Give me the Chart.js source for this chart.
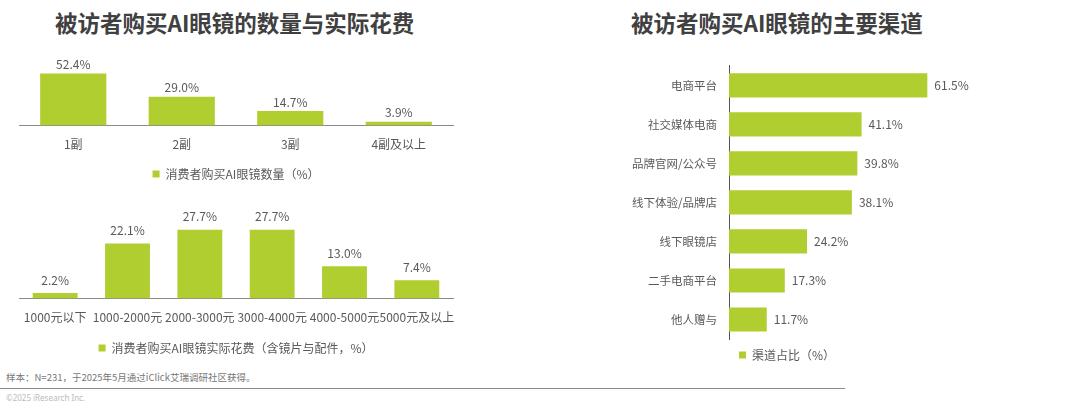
<!DOCTYPE html>
<html>
<head>
<meta charset="utf-8">
<script src="https://cdn.jsdelivr.net/npm/chart.js@4.4.1/dist/chart.umd.min.js"></script>
<style>
  body { margin: 0; width: 1080px; height: 409px; background: #fff; position: relative; overflow: hidden;
         font-family: "Noto Sans CJK SC", "Noto Sans", sans-serif; }
  .title { position: absolute; top: 6px; font-size: 22.5px; font-weight: bold; color: #404040; white-space: nowrap; }
  .box { position: absolute; }
  .note { position: absolute; left: 6px; top: 370px; font-size: 9.5px; color: #777; }
  .copy { position: absolute; left: 6px; top: 392px; font-size: 8px; color: #bbb; font-family: "Noto Sans", sans-serif; }
  .rule { position: absolute; left: 0; top: 388px; width: 845px; height: 1px; background: #8a8a8a; }
</style>
</head>
<body>
<div class="title" style="left:55px">被访者购买AI眼镜的数量与实际花费</div>
<div class="title" style="left:631px">被访者购买AI眼镜的主要渠道</div>

<div class="box" style="left:0;top:50px;width:470px;height:140px"><canvas id="chartCount"></canvas></div>
<div class="box" style="left:0;top:199px;width:470px;height:165px"><canvas id="chartSpend"></canvas></div>
<div class="box" style="left:620px;top:47px;width:367px;height:324px"><canvas id="chartChannel"></canvas></div>

<div class="note">样本：N=231，于2025年5月通过iClick艾瑞调研社区获得。</div>
<div class="rule"></div>
<div class="copy">©2025 iResearch Inc.</div>

<script>
  const countLabels = ["1副", "2副", "3副", "4副及以上"];
  const countValues = [52.4, 29.0, 14.7, 3.9];

  const spendLabels = ["1000元以下", "1000-2000元", "2000-3000元", "3000-4000元", "4000-5000元", "5000元及以上"];
  const spendValues = [2.2, 22.1, 27.7, 27.7, 13.0, 7.4];

  const channelLabels = ["电商平台", "社交媒体电商", "品牌官网/公众号", "线下体验/品牌店", "线下眼镜店", "二手电商平台", "他人赠与"];
  const channelValues = [61.5, 41.1, 39.8, 38.1, 24.2, 17.3, 11.7];

  const green = "#b0ce30";
  const grey = "#595959";
  const fontFamily = '"Noto Sans CJK SC", "Noto Sans", sans-serif';

  // 在柱子旁边写数值
  const valueLabels = {
    id: "valueLabels",
    afterDatasetsDraw(chart, args, opts) {
      const ctx = chart.ctx;
      const horizontal = chart.options.indexAxis === "y";
      chart.getDatasetMeta(0).data.forEach((bar, i) => {
        const v = chart.data.datasets[0].data[i];
        ctx.save();
        ctx.font = "12px " + fontFamily;
        ctx.fillStyle = grey;
        if (horizontal) {
          ctx.textAlign = "left";
          ctx.textBaseline = "middle";
          ctx.fillText(v.toFixed(1) + "%", bar.x + opts.gap, bar.y);
        } else {
          ctx.textAlign = "center";
          ctx.textBaseline = "bottom";
          ctx.fillText(v.toFixed(1) + "%", bar.x, bar.y - opts.gap);
        }
        ctx.restore();
      });
    },
  };

  Chart.defaults.font.family = fontFamily;
  Chart.defaults.color = grey;
  Chart.defaults.animation = false;

  function legendOpts(align, pad) {
    return {
      position: "bottom",
      fullSize: false,
      align: align,
      labels: { boxWidth: 7, boxHeight: 7, padding: pad, font: { size: 12 }, color: grey },
    };
  }

  new Chart(document.getElementById("chartCount"), {
    type: "bar",
    data: {
      labels: countLabels,
      datasets: [{ label: "消费者购买AI眼镜数量（%）", data: countValues, backgroundColor: green,
                   categoryPercentage: 1, barPercentage: 0.61 }],
    },
    options: {
      responsive: true,
      maintainAspectRatio: false,
      layout: { padding: { left: 19, right: 17, top: 0, bottom: 0 } },
      plugins: { legend: legendOpts("center", 4), tooltip: { enabled: false }, valueLabels: { gap: 3 } },
      scales: {
        x: { grid: { display: false, drawTicks: false }, border: { display: true, color: "#8a8a8a" },
             ticks: { padding: 12, font: { size: 12 }, maxRotation: 0 } },
        y: { display: false, min: 0, max: 76 },
      },
    },
    plugins: [valueLabels],
  });

  new Chart(document.getElementById("chartSpend"), {
    type: "bar",
    data: {
      labels: spendLabels,
      datasets: [{ label: "消费者购买AI眼镜实际花费（含镜片与配件，%）", data: spendValues, backgroundColor: green,
                   categoryPercentage: 1, barPercentage: 0.62 }],
    },
    options: {
      responsive: true,
      maintainAspectRatio: false,
      layout: { padding: { left: 19, right: 17, top: 0, bottom: 0 } },
      plugins: { legend: legendOpts("center", 5), tooltip: { enabled: false }, valueLabels: { gap: 7 } },
      scales: {
        x: { grid: { display: false, drawTicks: false }, border: { display: true, color: "#8a8a8a" },
             ticks: { padding: 12, font: { size: 12 }, autoSkip: false, maxRotation: 0 } },
        y: { display: false, min: 0, max: 40 },
      },
    },
    plugins: [valueLabels],
  });

  new Chart(document.getElementById("chartChannel"), {
    type: "bar",
    data: {
      labels: channelLabels,
      datasets: [{ label: "渠道占比（%）", data: channelValues, backgroundColor: green,
                   categoryPercentage: 1, barPercentage: 0.62 }],
    },
    options: {
      indexAxis: "y",
      responsive: true,
      maintainAspectRatio: false,
      layout: { padding: { left: 0, right: 0, top: 0, bottom: 0 } },
      plugins: { legend: legendOpts("start", 10), tooltip: { enabled: false }, valueLabels: { gap: 7 } },
      scales: {
        y: { grid: { display: false, drawTicks: false }, border: { display: true, color: "#555" },
             ticks: { padding: 12, font: { size: 11.5 } } },
        x: { display: false, min: 0, max: 80 },
      },
    },
    plugins: [valueLabels],
  });
</script>
</body>
</html>
